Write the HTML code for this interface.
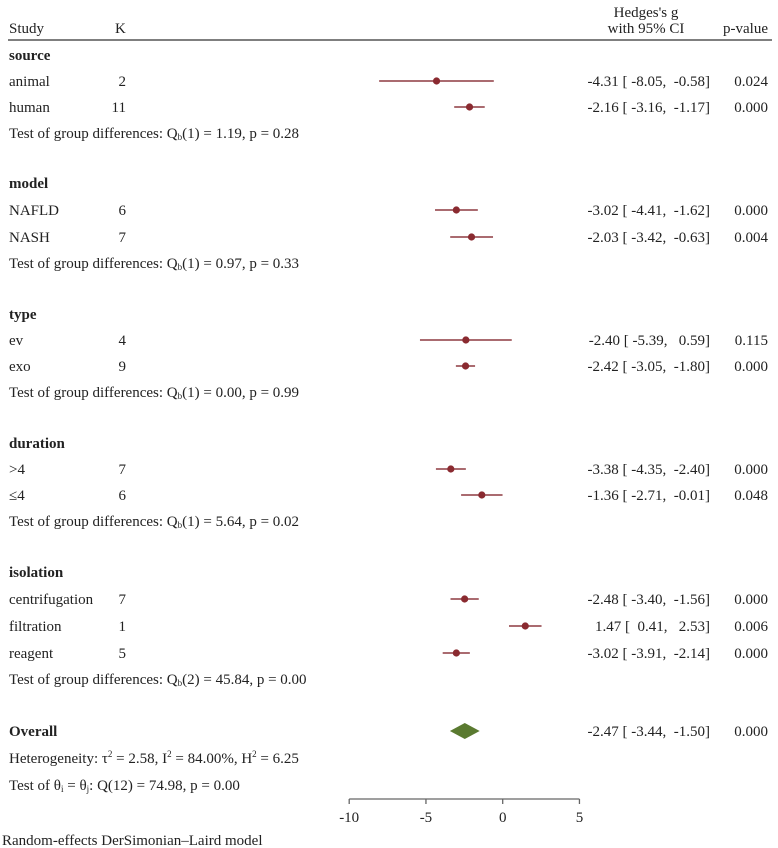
<!DOCTYPE html>
<html><head><meta charset="utf-8"><style>
body{margin:0;background:#fff}
svg{display:block;font-family:"Liberation Serif",serif;font-size:15px;fill:#222}
.b{font-weight:bold}
</style></head><body>
<svg id="c" width="778" height="848">
<text x="9" y="33">Study</text>
<text x="115" y="33">K</text>
<text x="646" y="17" text-anchor="middle">Hedges's g</text>
<text x="646" y="33" text-anchor="middle">with 95% CI</text>
<text x="768" y="33" text-anchor="end">p-value</text>
<line x1="8" y1="40" x2="772" y2="40" stroke="#333" stroke-width="1.3"/>
<g id="rows"></g>
<g id="axis"></g>
<text x="2" y="845">Random-effects DerSimonian–Laird model</text>
</svg>
<script>
const labels=["animal","human","NAFLD","NASH","ev","exo",">4","≤4","centrifugation","filtration","reagent"];
const kvals=[2,11,6,7,4,9,7,6,7,1,5];
const est=[-4.31,-2.16,-3.02,-2.03,-2.40,-2.42,-3.38,-1.36,-2.48,1.47,-3.02];
const lo=[-8.05,-3.16,-4.41,-3.42,-5.39,-3.05,-4.35,-2.71,-3.40,0.41,-3.91];
const hi=[-0.58,-1.17,-1.62,-0.63,0.59,-1.80,-2.40,-0.01,-1.56,2.53,-2.14];
const pv=["0.024","0.000","0.000","0.004","0.115","0.000","0.000","0.048","0.000","0.006","0.000"];
const groups=["source","model","type","duration","isolation"];
const groupSizes=[2,2,2,2,3];
const tests=[["1","1.19","0.28"],["1","0.97","0.33"],["1","0.00","0.99"],["1","5.64","0.02"],["2","45.84","0.00"]];
const overall=[-2.47,-3.44,-1.50];
const overallP="0.000";
const ticks=[-10,-5,0,5];
const NS="http://www.w3.org/2000/svg";
const X=v=>502.7+v*15.35;
const rows=document.getElementById('rows');
function el(t,a,txt,p){const e=document.createElementNS(NS,t);for(const k in a)e.setAttribute(k,a[k]);if(txt!=null)e.textContent=txt;(p||rows).appendChild(e);return e;}
const f=v=>v.toFixed(2);
const groupY=[55,183,314,443,572];
const rowStep=[26,27,26,26,27];
let idx=0;
groups.forEach((g,gi)=>{
  let y=groupY[gi];
  const h=el('text',{x:9,y:y+5,class:'b'},g);
  
  
  for(let j=0;j<groupSizes[gi];j++){
    y+=rowStep[gi];
    const i=idx++;
    const t=el('text',{x:9,y:y+5},labels[i]);
    
    
    const k=el('text',{x:126,y:y+5,'text-anchor':'end'},kvals[i]);
    
    
    const l=el('line',{x1:X(lo[i]),x2:X(hi[i]),y1:y,y2:y,stroke:'#8e3a40','stroke-width':1.4});
    
    
    const c=el('circle',{cx:X(est[i]),cy:y,r:3.6,fill:'#8a2a30'});
    
    
    const e=el('text',{x:710,y:y+5,'text-anchor':'end',style:'white-space:pre'},`${f(est[i])} [${f(lo[i]).padStart(6,' ')},  ${f(hi[i]).padStart(5,' ')}]`);
    
    
    const p=el('text',{x:768,y:y+5,'text-anchor':'end'},pv[i]);
    
    
  }
  y+=26;
  const tt=tests[gi];
  const tx=el('text',{x:9,y:y+5},null);
  tx.innerHTML=`Test of group differences: Q<tspan font-size="9" dy="2">b</tspan><tspan dy="-2">(${tt[0]}) = ${tt[1]}, p = ${tt[2]}</tspan>`;
  
  
});
const oy=731;
const ol=el('text',{x:9,y:oy+5,class:'b'},'Overall');


const d=el('polygon',{points:`${X(overall[1])},${oy} ${X(overall[0])},${oy-8} ${X(overall[2])},${oy} ${X(overall[0])},${oy+8}`,fill:'#5a7a30'});


const ot=el('text',{x:710,y:oy+5,'text-anchor':'end',style:'white-space:pre'},`${f(overall[0])} [${f(overall[1]).padStart(6,' ')},  ${f(overall[2]).padStart(5,' ')}]`);


const op=el('text',{x:768,y:oy+5,'text-anchor':'end'},overallP);


const het=el('text',{x:9,y:763},null);
het.innerHTML='Heterogeneity: τ<tspan font-size="9" dy="-6">2</tspan><tspan dy="6"> = 2.58, I</tspan><tspan font-size="9" dy="-6">2</tspan><tspan dy="6"> = 84.00%, H</tspan><tspan font-size="9" dy="-6">2</tspan><tspan dy="6"> = 6.25</tspan>';


const th=el('text',{x:9,y:790},null);
th.innerHTML='Test of θ<tspan font-size="9" dy="2">i</tspan><tspan dy="-2"> = θ</tspan><tspan font-size="9" dy="2">j</tspan><tspan dy="-2">: Q(12) = 74.98, p = 0.00</tspan>';


const ax=document.getElementById('axis');
const al=el('line',{x1:X(ticks[0]),x2:X(ticks[ticks.length-1]),y1:799,y2:799,stroke:'#666','stroke-width':1.3},null,ax);


ticks.forEach(t=>{
  const tl=el('line',{x1:X(t),x2:X(t),y1:799,y2:804,stroke:'#666','stroke-width':1.3},null,ax);
  
  
  const tx=el('text',{x:X(t),y:822,'text-anchor':'middle'},t,ax);
  
  
});
</script>
</body></html>
